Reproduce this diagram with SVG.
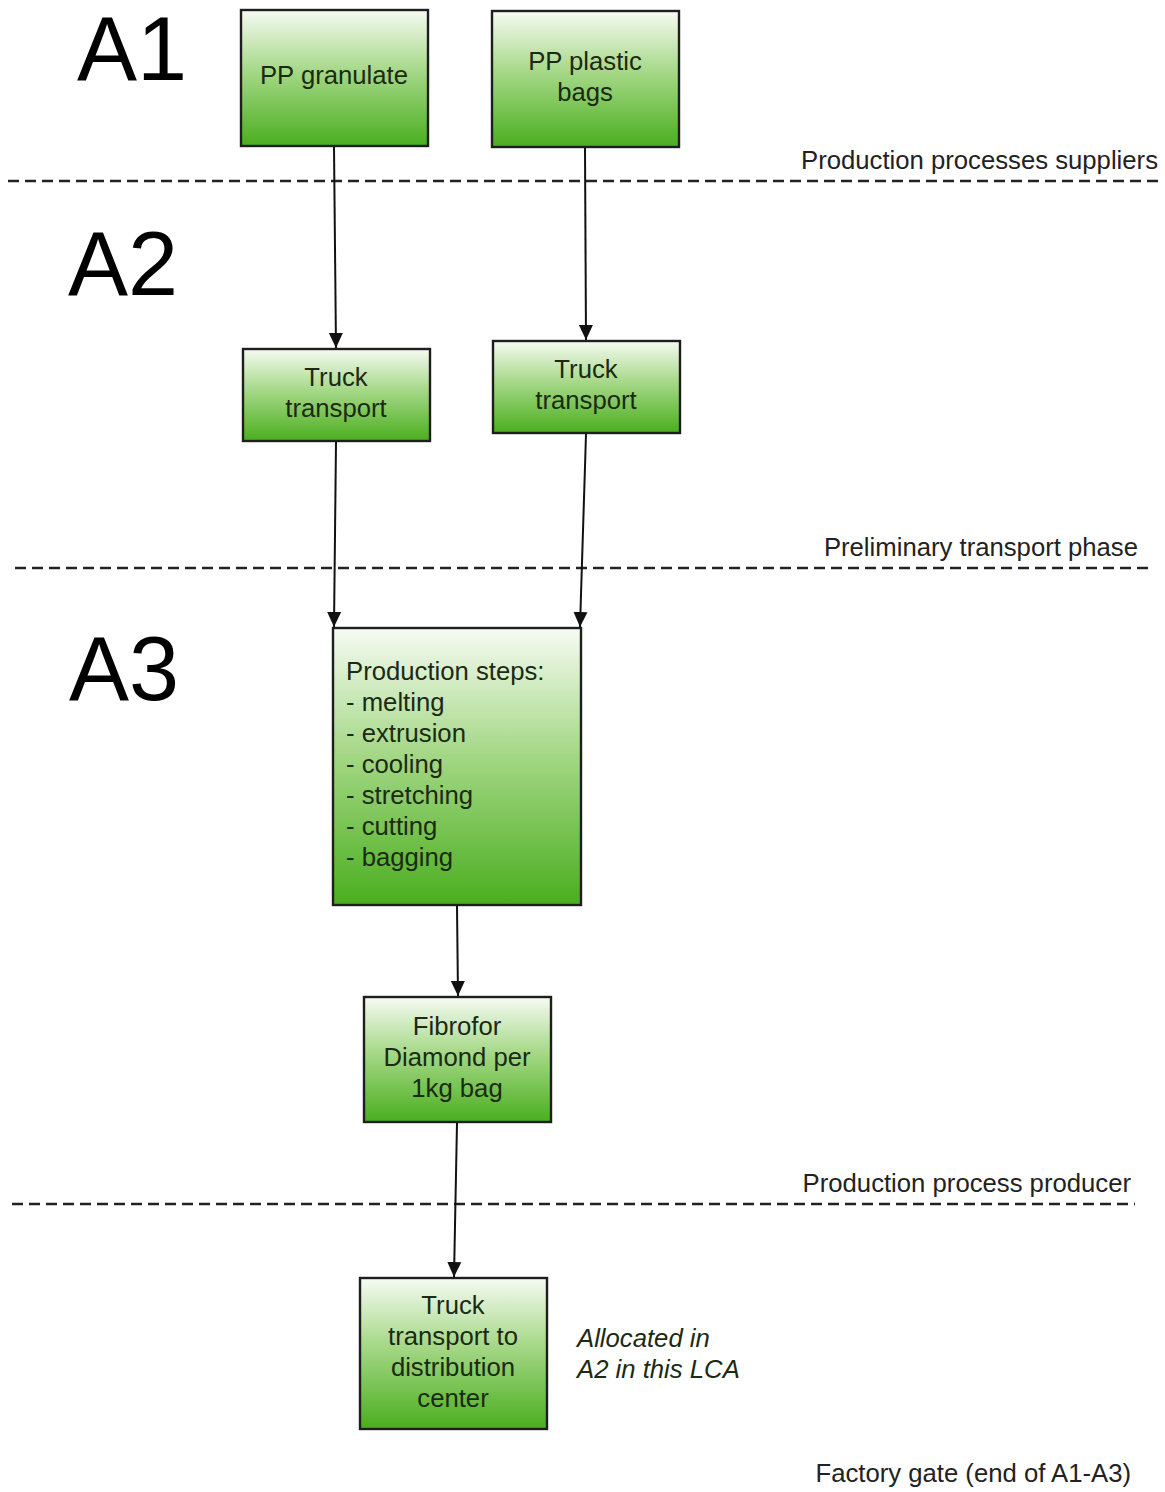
<svg xmlns="http://www.w3.org/2000/svg" width="1165" height="1492" viewBox="0 0 1165 1492">
<defs>
<linearGradient id="g" x1="0" y1="0" x2="0" y2="1">
<stop offset="0" stop-color="#f6fbf3"/>
<stop offset="0.45" stop-color="#a5d887"/>
<stop offset="1" stop-color="#4aae1e"/>
</linearGradient>
<marker id="ah" markerWidth="16" markerHeight="16" viewBox="0 0 16 16" refX="15" refY="8" orient="auto" markerUnits="userSpaceOnUse">
<path d="M0,1 L15,8 L0,15 Z" fill="#111"/>
</marker>
<style>
.box{fill:url(#g);stroke:#1e1e1e;stroke-width:2.4}
.t{font-family:"Liberation Sans",Arial,sans-serif;font-size:25.7px;fill:#1c2a14}
.c{text-anchor:middle}
.big{font-family:"Liberation Sans",Arial,sans-serif;font-size:90px;fill:#000}
.lab{font-family:"Liberation Sans",Arial,sans-serif;font-size:25.7px;fill:#222;text-anchor:end}
.dash{stroke:#222;stroke-width:2.4;stroke-dasharray:11,6;fill:none}
.con{stroke:#111;stroke-width:2;fill:none;marker-end:url(#ah)}
</style>
</defs>
<rect width="1165" height="1492" fill="#fff"/>
<g id="phases">
<text class="big" x="77" y="80">A1</text>
<text class="big" x="68" y="295">A2</text>
<text class="big" x="69" y="700">A3</text>
<line class="dash" x1="8" y1="181" x2="1162" y2="181"/>
<text class="lab" x="1158" y="169">Production processes suppliers</text>
<line class="dash" x1="15" y1="568" x2="1148" y2="568"/>
<text class="lab" x="1138" y="556">Preliminary transport phase</text>
<line class="dash" x1="12" y1="1204" x2="1135" y2="1204"/>
<text class="lab" x="1131" y="1192">Production process producer</text>
<text class="lab" x="1131" y="1482">Factory gate (end of A1-A3)</text>
<text class="t" x="577" y="1347" font-style="italic">Allocated in</text>
<text class="t" x="577" y="1378" font-style="italic">A2 in this LCA</text>
</g>
<g id="connectors">
<line class="con" x1="334" y1="147" x2="336" y2="348"/>
<line class="con" x1="585" y1="148" x2="586" y2="340"/>
<line class="con" x1="336" y1="442" x2="334" y2="627"/>
<line class="con" x1="586" y1="434" x2="580" y2="627"/>
<line class="con" x1="457" y1="906" x2="458" y2="996"/>
<line class="con" x1="457" y1="1123" x2="454" y2="1277"/>
</g>
<g id="pp-granulate">
<rect class="box" x="241" y="10" width="187" height="136"/>
<text class="t c" x="334" y="84">PP granulate</text>
</g>
<g id="pp-plastic-bags">
<rect class="box" x="492" y="11" width="187" height="136"/>
<text class="t c" x="585" y="70">PP plastic</text>
<text class="t c" x="585" y="101">bags</text>
</g>
<g id="truck-1">
<rect class="box" x="243" y="349" width="187" height="92"/>
<text class="t c" x="336" y="386">Truck</text>
<text class="t c" x="336" y="417">transport</text>
</g>
<g id="truck-2">
<rect class="box" x="493" y="341" width="187" height="92"/>
<text class="t c" x="586" y="378">Truck</text>
<text class="t c" x="586" y="409">transport</text>
</g>
<g id="production-steps">
<rect class="box" x="333" y="628" width="248" height="277"/>
<text class="t" x="346" y="680">Production steps:</text>
<text class="t" x="346" y="711">- melting</text>
<text class="t" x="346" y="742">- extrusion</text>
<text class="t" x="346" y="773">- cooling</text>
<text class="t" x="346" y="804">- stretching</text>
<text class="t" x="346" y="835">- cutting</text>
<text class="t" x="346" y="866">- bagging</text>
</g>
<g id="fibrofor">
<rect class="box" x="364" y="997" width="187" height="125"/>
<text class="t c" x="457" y="1035">Fibrofor</text>
<text class="t c" x="457" y="1066">Diamond per</text>
<text class="t c" x="457" y="1097">1kg bag</text>
</g>
<g id="truck-distribution">
<rect class="box" x="360" y="1278" width="187" height="151"/>
<text class="t c" x="453" y="1314">Truck</text>
<text class="t c" x="453" y="1345">transport to</text>
<text class="t c" x="453" y="1376">distribution</text>
<text class="t c" x="453" y="1407">center</text>
</g>
</svg>
